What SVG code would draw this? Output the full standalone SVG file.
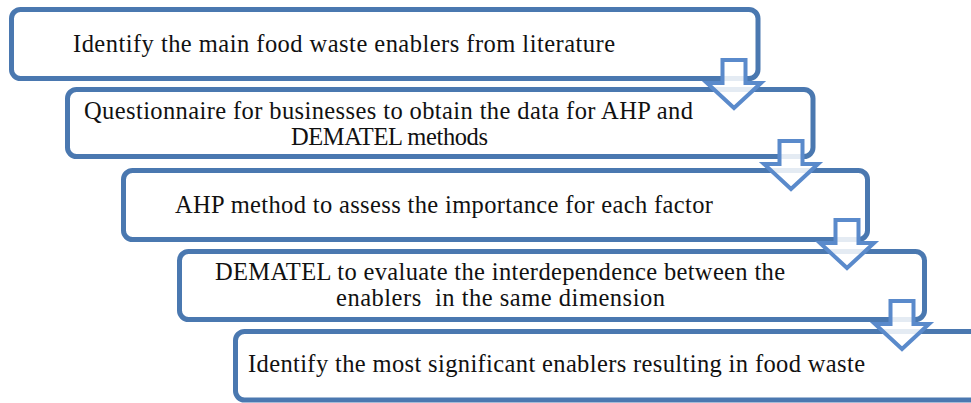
<svg xmlns="http://www.w3.org/2000/svg" width="971" height="403" viewBox="0 0 971 403">
<style>
.box{fill:#ffffff;stroke:#4a78b0;stroke-width:5}
.arr{fill:#ffffff;fill-opacity:0.85;stroke:#5a8acb;stroke-width:4;stroke-linejoin:miter}
text{font-family:"Liberation Serif","Times New Roman",serif;font-size:24.5px;fill:#111111;white-space:pre}
</style>
<defs>
<path id="dn" d="M -11.5 0 H 11.5 V 23 H 27 L 0 48 L -27 23 H -11.5 Z"/>
</defs>
<rect width="971" height="403" fill="#ffffff"/>
<g id="step1"><rect class="box" x="11.5" y="9.5" width="746.5" height="69" rx="9"/>
<text x="73" y="52" textLength="542">Identify the main food waste enablers from literature</text></g>
<g id="step2"><rect class="box" x="67.5" y="89.5" width="745.5" height="67" rx="9"/>
<text x="84" y="119" textLength="609">Questionnaire for businesses to obtain the data for AHP and</text>
<text x="291" y="145" textLength="197">DEMATEL methods</text></g>
<g id="step3"><rect class="box" x="123.5" y="170.5" width="744" height="69" rx="9"/>
<text x="175" y="213" textLength="538">AHP method to assess the importance for each factor</text></g>
<g id="step4"><rect class="box" x="179.5" y="251.5" width="745" height="68" rx="9"/>
<text x="215" y="280" textLength="570">DEMATEL to evaluate the interdependence between the</text>
<text x="336" y="306" textLength="329">enablers  in the same dimension</text></g>
<g id="step5"><rect class="box" x="235.5" y="331.5" width="746" height="68.5" rx="9"/>
<text x="248" y="372" textLength="617">Identify the most significant enablers resulting in food waste</text></g>
<g id="connectors">
<use href="#dn" class="arr" transform="translate(734,60)"/>
<use href="#dn" class="arr" transform="translate(791,141)"/>
<use href="#dn" class="arr" transform="translate(847,220)"/>
<use href="#dn" class="arr" transform="translate(902,301)"/>
</g>
</svg>
